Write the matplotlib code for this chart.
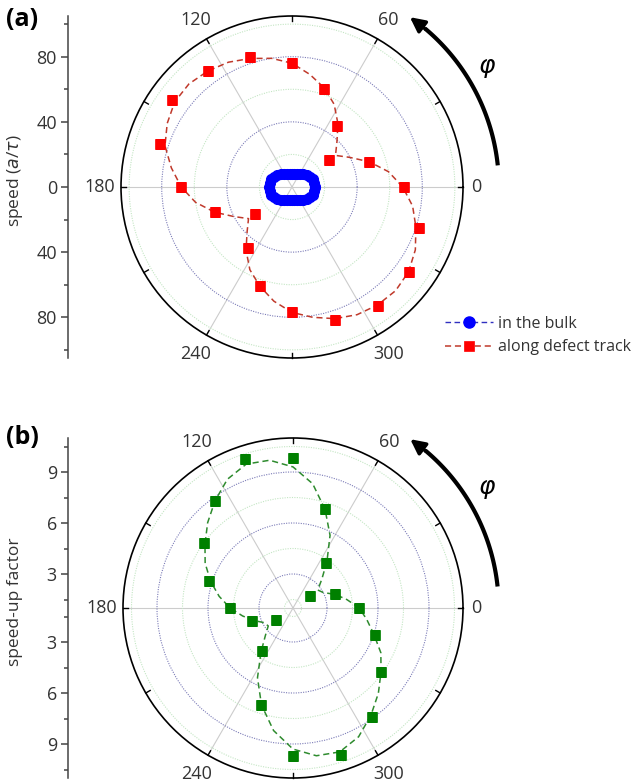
import numpy as np
import matplotlib
matplotlib.use("Agg")
import matplotlib.pyplot as plt
from matplotlib.lines import Line2D

plt.rcParams['font.family'] = ['Open Sans', 'DejaVu Sans']
plt.rcParams['mathtext.fontset'] = 'dejavusans'

#angles (deg) of the measured points, both panels
point_angle = [0, 18, 36, 54, 72, 90, 108, 126, 144, 162,
               180, 198, 216, 234, 252, 270, 288, 306, 324, 342]
#angles (deg) where the dashed fit curves were read
fit_angle = [0, 9, 18, 27, 36, 45, 54, 63, 72, 81,
             90, 99, 108, 117, 126, 135, 144, 153, 162, 171,
             180, 189, 198, 207, 216, 225, 234, 243, 252, 261,
             270, 279, 288, 297, 306, 315, 324, 333, 342, 351]

#(a) speed along the defect track (a/tau)
defect_speed = [69, 50, 28, 46.5, 63, 76, 84, 88, 91, 85,
                68, 50, 28, 46, 64, 77, 86, 90, 89, 82]
defect_fit = [68, 60, 50, 40, 33, 39, 48, 57, 64, 70,
              76, 80, 83, 86, 88, 89.5, 89, 86, 82, 75,
              68, 60, 50, 40, 33, 39, 48, 57, 64, 71,
              77, 81, 85, 88, 89.5, 90, 88.5, 85, 80, 75]

#(a) speed in the bulk
bulk_angle = [0, 10, 20, 30, 40, 50, 60, 70, 80, 90, 100, 110,
              120, 130, 140, 150, 160, 170, 180, 190, 200, 210, 220, 230,
              240, 250, 260, 270, 280, 290, 300, 310, 320, 330, 340, 350]
bulk_speed = [14.3, 14.0, 13.5, 12.7, 11.7, 10.5, 9.4, 8.7, 8.3, 8.1, 8.3, 8.7,
              9.4, 10.5, 11.7, 12.7, 13.5, 14.0, 14.2, 14.0, 13.5, 12.7, 11.7, 10.5,
              9.4, 8.7, 8.3, 8.2, 8.3, 8.7, 9.4, 10.5, 11.7, 12.7, 13.5, 14.0]

#(b) speed-up factor
speedup = [4.9, 3.6, 2.2, 4.3, 7.1, 9.8, 10.2, 8.8, 7.5, 6.2,
           4.7, 3.55, 2.2, 4.1, 7.0, 9.7, 10.1, 8.9, 7.4, 6.1]
speedup_fit = [4.9, 4.2, 3.6, 3.0, 2.8, 3.4, 4.4, 5.8, 7.1, 8.4,
               9.3, 9.8, 9.9, 9.5, 8.8, 8.1, 7.4, 6.8, 6.1, 5.4,
               4.7, 4.0, 3.4, 2.9, 2.8, 3.3, 4.2, 5.6, 7.0, 8.3,
               9.3, 9.8, 9.9, 9.5, 8.8, 8.1, 7.4, 6.8, 6.0, 5.4]

theta_labels = ['0', '60', '120', '180', '240', '300']
speed_ticks = [0, 40, 80]
speed_minor = [20, 60, 100]
factor_ticks = [3, 6, 9]
factor_minor = [1.5, 4.5, 7.5, 10.5]

W, H = 639, 782
TXT = '#333333'

fig = plt.figure(figsize=(W / 100, H / 100), dpi=100)


def closed(vals):
    return list(vals) + [vals[0]]


def polar_panel(cx, cy, rad, rmin, rmax, major, minor, letter, ylabel, label_y):
    box = [(cx - rad) / W, 1 - (cy + rad) / H, 2 * rad / W, 2 * rad / H]
    ax = fig.add_axes(box, projection='polar')
    ax.set_ylim(rmin, rmax)
    span = rmax - rmin

    th_major = [int(s) for s in theta_labels]
    ax.set_xticks(np.deg2rad(th_major))
    ax.set_xticklabels([])
    ax.xaxis.grid(True, which='major', color='#cccccc', lw=0.8, ls='-')
    ax.tick_params(axis='x', which='both', length=0)

    #short inward ticks on the outer circle every 30 deg
    for t in th_major:
        for a in [t, t + 30]:
            ax.plot([np.deg2rad(a)] * 2, [rmax - 0.03 * span, rmax], color='k', lw=1,
                    clip_on=False, zorder=5)

    ax.set_yticks([v for v in major if v > rmin])
    ax.set_yticks(minor, minor=True)
    ax.set_yticklabels([])
    ax.yaxis.grid(True, which='major', color='#7c7cb8', ls=(0, (1, 1.2)), lw=0.8)
    ax.yaxis.grid(True, which='minor', color='#c4e6c4', ls=(0, (1, 1.2)), lw=0.8)
    ax.tick_params(axis='y', which='both', length=0)
    ax.spines['polar'].set_color('k')
    ax.spines['polar'].set_linewidth(1.2)

    #angle labels placed by hand, like origin does
    for s in theta_labels:
        a = int(s)
        if a == 0:
            ax.text(0, rmin + 1.045 * span, s, ha='left', va='center', fontsize=13, color=TXT)
        elif a == 180:
            ax.text(np.pi, rmin + 1.035 * span, s, ha='right', va='center', fontsize=13,
                    color=TXT)
        else:
            ax.text(np.deg2rad(a), rmin + 1.13 * span, s, ha='center', va='center',
                    fontsize=13, color=TXT)

    #phi arrow
    r_arc = rmin + 1.21 * span
    th = np.deg2rad(np.linspace(6, 50, 60))
    ax.plot(th, np.full_like(th, r_arc), color='k', lw=3, clip_on=False,
            solid_capstyle='butt')
    ax.annotate('', xy=(np.deg2rad(56), r_arc), xytext=(np.deg2rad(49), r_arc),
                arrowprops=dict(arrowstyle='-|>', color='k', lw=2.5, mutation_scale=22),
                annotation_clip=False)
    ax.text(np.deg2rad(31.5), rmin + 1.34 * span, r'$\varphi$', fontsize=18,
            ha='center', va='center')

    #linear radial scale on the left
    axl = fig.add_axes([68 / W, box[1], 0.01, box[3]])
    axl.patch.set_visible(False)
    for sp in ['top', 'right', 'bottom']:
        axl.spines[sp].set_visible(False)
    axl.spines['left'].set_color('#444444')
    axl.spines['left'].set_linewidth(1.1)
    axl.set_xticks([])
    axl.set_ylim(-span, span)
    pos, lab = [], []
    for v in major:
        for sgn in [-1, 1]:
            p = sgn * (v - rmin)
            if p not in pos:
                pos.append(p)
                lab.append(f'{v:g}')
    axl.set_yticks(pos)
    axl.set_yticklabels(lab)
    axl.set_yticks([sgn * (v - rmin) for v in minor for sgn in [-1, 1]], minor=True)
    axl.tick_params(axis='y', which='major', length=5, width=1.1, color='#444444',
                    labelsize=13, labelcolor=TXT, pad=3)
    axl.tick_params(axis='y', which='minor', length=3, width=1.1, color='#444444')

    fig.text(6 / W, 1 - label_y / H, letter, fontsize=18,
             fontweight='bold', ha='left', va='top')
    fig.text(15 / W, 1 - (cy - 6) / H, ylabel, rotation=90, fontsize=12.5, color=TXT,
             ha='center', va='center')
    return ax


red_line = '#c0392b'
green_line = '#2e8b2e'
dash = (0, (4, 2.5))

ax_a = polar_panel(292, 187, 171, 0, 105, speed_ticks, speed_minor, '(a)',
                   r'speed ($\mathit{a}$/$\tau$)', 7)
ax_a.plot(np.deg2rad(closed(bulk_angle)), closed(bulk_speed), ls=dash, color='#3030c0',
          lw=1, marker='o', ms=7, mfc='#0000ff', mec='#0000ff', zorder=4)
ax_a.plot(np.deg2rad(closed(fit_angle)), closed(defect_fit), ls=dash, color=red_line,
          lw=1.1, zorder=3)
ax_a.plot(np.deg2rad(point_angle), defect_speed, ls='none', marker='s', ms=7.5, mew=0.5,
          color='#ff0000', zorder=4)

handles = [Line2D([], [], color='#3030c0', ls=dash, lw=1, marker='o', ms=8,
                  mfc='#0000ff', mec='#0000ff'),
           Line2D([], [], color=red_line, ls=dash, lw=1.1, marker='s', ms=7.5, mew=0.5,
                  mfc='#ff0000', mec='#ff0000')]
fig.legend(handles, ['in the bulk', 'along defect track'], loc='center left',
           bbox_to_anchor=(445 / W, 1 - 335.5 / H), frameon=False, fontsize=11.5,
           handlelength=3.0, handletextpad=0.3, labelspacing=0.45, borderpad=0,
           borderaxespad=0, labelcolor=TXT)

ax_b = polar_panel(293, 608, 170, 1, 11, factor_ticks, factor_minor, '(b)',
                   'speed-up factor', 425)
ax_b.plot(np.deg2rad(closed(fit_angle)), closed(speedup_fit), ls=dash, color=green_line,
          lw=1.1, zorder=3)
ax_b.plot(np.deg2rad(point_angle), speedup, ls='none', marker='s', ms=7, mew=0.5,
          color='#008000', zorder=4)

fig.savefig('out.png', dpi=100, facecolor='white')
